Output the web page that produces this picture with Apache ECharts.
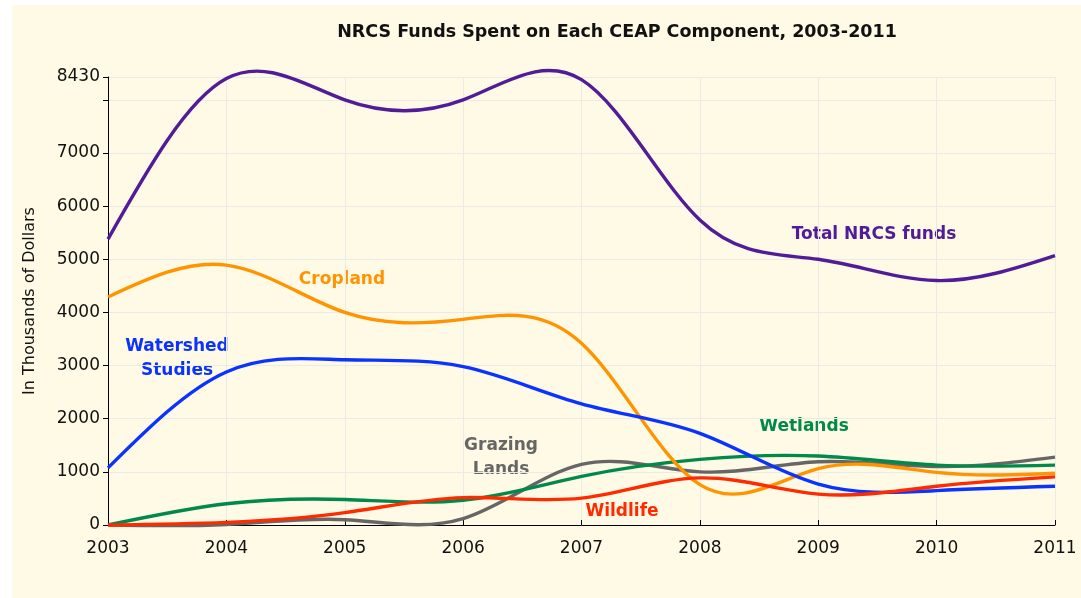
<!DOCTYPE html>
<html>
<head>
<meta charset="utf-8">
<script src="https://cdn.jsdelivr.net/npm/echarts@6/dist/echarts.min.js"></script>
<style>
  html, body { margin: 0; padding: 0; background: #fff; }
  #chart { width: 1081px; height: 598px; }
</style>
</head>
<body>
<div id="chart"></div>
<script>
// data (thousands of dollars)
var years = ['2003', '2004', '2005', '2006', '2007', '2008', '2009', '2010', '2011'];
var total = [5380, 8400, 8000, 8000, 8380, 5740, 5000, 4600, 5070];
var cropland = [4290, 4890, 4000, 3870, 3420, 760, 1060, 990, 975];
var watershed = [1075, 2880, 3110, 2980, 2280, 1725, 770, 646, 728];
var grazing = [0, 10, 100, 120, 1140, 1000, 1190, 1100, 1278];
var wetlands = [0, 400, 480, 465, 915, 1235, 1297, 1127, 1127];
var wildlife = [0, 50, 233, 516, 505, 886, 582, 728, 905];

var colors = {
    total: '#521b97',
    crop: '#ff9400',
    water: '#0a33ff',
    graze: '#666666',
    wet: '#00894b',
    wild: '#ff2a00'
};

var myChart = echarts.init(document.getElementById('chart'));

// natural cubic spline through pixel points, as bezier path
function splinePath(pts) {
    var n = pts.length - 1;
    var h = [], i;
    for (i = 0; i < n; i++) h.push(pts[i + 1][0] - pts[i][0]);
    // solve for second derivatives (M0 = Mn = 0)
    var a = [], b = [], c = [], d = [];
    for (i = 1; i < n; i++) {
        a.push(h[i - 1]);
        b.push(2 * (h[i - 1] + h[i]));
        c.push(h[i]);
        d.push(6 * ((pts[i + 1][1] - pts[i][1]) / h[i] - (pts[i][1] - pts[i - 1][1]) / h[i - 1]));
    }
    var m = d.length;
    for (i = 1; i < m; i++) {
        var w = a[i] / b[i - 1];
        b[i] -= w * c[i - 1];
        d[i] -= w * d[i - 1];
    }
    var M = new Array(n + 1).fill(0);
    for (i = m - 1; i >= 0; i--) {
        M[i + 1] = (d[i] - (i < m - 1 ? c[i] * M[i + 2] : 0)) / b[i];
    }
    var path = 'M' + pts[0][0] + ' ' + pts[0][1];
    for (i = 0; i < n; i++) {
        var x0 = pts[i][0], y0 = pts[i][1], x1 = pts[i + 1][0], y1 = pts[i + 1][1];
        var s = (y1 - y0) / h[i];
        var d0 = s - h[i] * (2 * M[i] + M[i + 1]) / 6;
        var d1 = s + h[i] * (M[i] + 2 * M[i + 1]) / 6;
        path += ' C' + (x0 + h[i] / 3) + ' ' + (y0 + d0 * h[i] / 3) + ' ' +
            (x1 - h[i] / 3) + ' ' + (y1 - d1 * h[i] / 3) + ' ' + x1 + ' ' + y1;
    }
    return path;
}

function line(name, values, color) {
    return {
        name: name,
        type: 'custom',
        data: values.map(function (v, i) { return [i, v]; }),
        encode: { x: 0, y: 1 },
        renderItem: function (params, api) {
            if (params.dataIndex !== 0) return null;
            var pts = values.map(function (v, i) { return api.coord([i, v]); });
            return {
                type: 'path',
                shape: { pathData: splinePath(pts) },
                style: { fill: 'none', stroke: color, lineWidth: 3.4, lineJoin: 'round' }
            };
        }
    };
}

function label(text, x, y, color) {
    return {
        type: 'text',
        x: x,
        y: y,
        style: {
            text: text,
            fill: color,
            font: 'bold 17px "DejaVu Sans"',
            textAlign: 'center',
            textVerticalAlign: 'middle',
            lineHeight: 24
        }
    };
}

var option = {
    backgroundColor: '#ffffff',
    animation: false,
    textStyle: { fontFamily: 'DejaVu Sans' },
    grid: { left: 108, right: 26, top: 77, bottom: 73 },
    xAxis: {
        type: 'category',
        boundaryGap: false,
        data: years,
        axisLine: { lineStyle: { color: '#000', width: 1 } },
        axisTick: { inside: true, length: 5, lineStyle: { color: '#000' } },
        axisLabel: { color: '#111', fontSize: 17, margin: 15 },
        splitLine: { show: true, lineStyle: { color: '#ebebe6', width: 1 } }
    },
    yAxis: {
        type: 'value',
        min: 0,
        max: 8430,
        interval: 1000,
        name: 'In Thousands of Dollars',
        nameLocation: 'middle',
        nameRotate: 90,
        nameGap: 70,
        nameTextStyle: { color: '#111', fontSize: 16 },
        axisLine: { show: true, lineStyle: { color: '#000', width: 1 } },
        axisTick: { show: true, length: 5, lineStyle: { color: '#000' } },
        axisLabel: {
            color: '#111',
            fontSize: 17,
            margin: 8,
            showMaxLabel: true,
            formatter: function (v) { return v === 8000 ? '' : String(v); }
        },
        splitLine: { show: true, lineStyle: { color: '#ebebe6', width: 1 } }
    },
    graphic: [
        {
            type: 'rect',
            z: -100,
            silent: true,
            shape: { x: 12, y: 5, width: 1069, height: 593 },
            style: { fill: '#fefae5' }
        },
        {
            type: 'text',
            x: 617,
            y: 32,
            style: {
                text: 'NRCS Funds Spent on Each CEAP Component, 2003-2011',
                fill: '#111',
                font: 'bold 17.5px "DejaVu Sans"',
                textAlign: 'center',
                textVerticalAlign: 'middle'
            }
        },
        label('Total NRCS funds', 874, 235, colors.total),
        label('Cropland', 342, 280, colors.crop),
        label('Watershed\nStudies', 177, 359, colors.water),
        label('Grazing\nLands', 501, 458, colors.graze),
        label('Wetlands', 804, 427, colors.wet),
        label('Wildlife', 622, 512, colors.wild)
    ],
    series: [
        line('Total NRCS funds', total, colors.total),
        line('Grazing Lands', grazing, colors.graze),
        line('Wetlands', wetlands, colors.wet),
        line('Cropland', cropland, colors.crop),
        line('Watershed Studies', watershed, colors.water),
        line('Wildlife', wildlife, colors.wild)
    ]
};

myChart.setOption(option);
window.addEventListener('resize', function () {
    myChart.resize();
});
</script>
</body>
</html>
